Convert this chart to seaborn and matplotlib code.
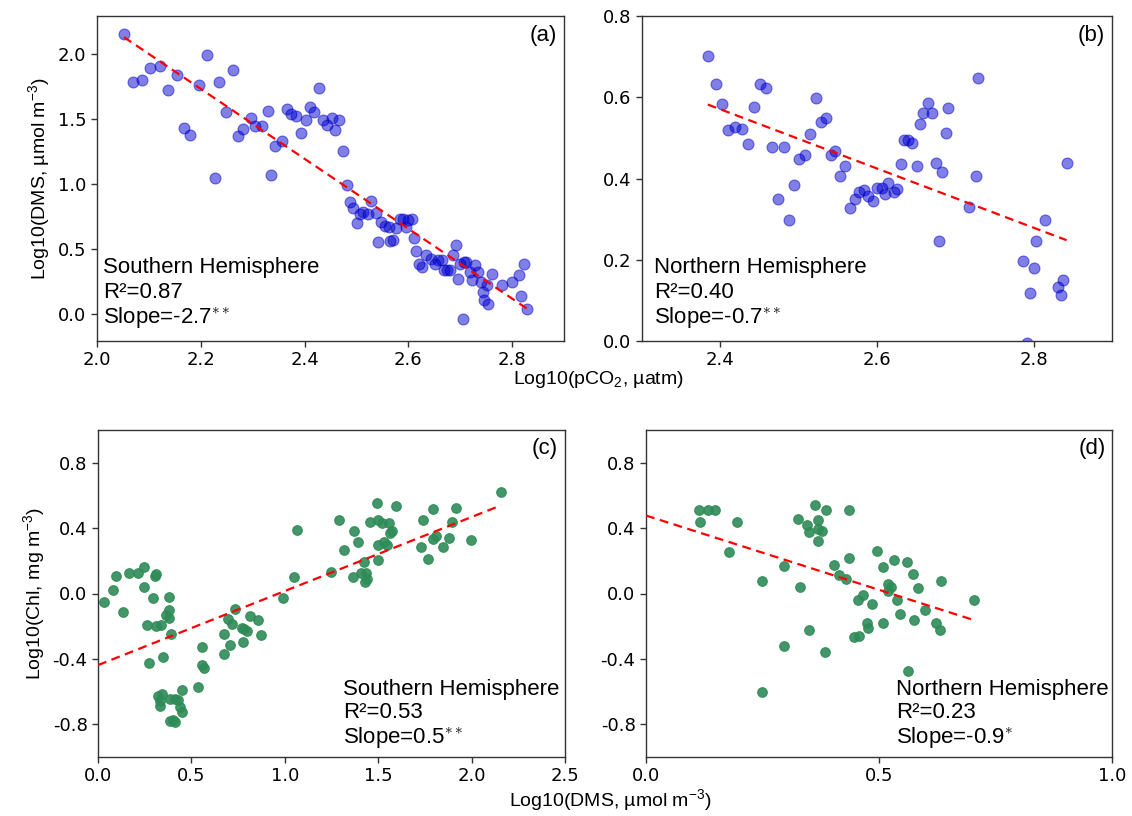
import numpy as np
import pandas as pd
import matplotlib
matplotlib.use("Agg")
import matplotlib.pyplot as plt
import seaborn as sns

# ---------------- data ----------------
a_x = [2.052, 2.069, 2.087, 2.103, 2.121, 2.137, 2.154, 2.167, 2.180, 2.212, 2.196, 2.227,
       2.236, 2.248, 2.263, 2.272, 2.282, 2.296, 2.305, 2.318, 2.330, 2.335, 2.344, 2.356,
       2.366, 2.374, 2.384, 2.394, 2.403, 2.410, 2.419, 2.428, 2.436, 2.444, 2.453, 2.458,
       2.467, 2.474, 2.482, 2.488, 2.494, 2.502, 2.507, 2.513, 2.522, 2.528, 2.537, 2.541,
       2.548, 2.555, 2.562, 2.565, 2.570, 2.576, 2.583, 2.589, 2.596, 2.599, 2.607, 2.611,
       2.615, 2.621, 2.627, 2.635, 2.643, 2.651, 2.658, 2.664, 2.669, 2.675, 2.681, 2.687,
       2.692, 2.696, 2.699, 2.705, 2.707, 2.712, 2.719, 2.722, 2.728, 2.735, 2.741, 2.744,
       2.746, 2.752, 2.754, 2.761, 2.781, 2.799, 2.813, 2.818, 2.822, 2.828]
a_y = [2.152, 1.787, 1.802, 1.889, 1.909, 1.725, 1.838, 1.432, 1.375, 1.991, 1.761, 1.048,
       1.787, 1.551, 1.879, 1.367, 1.426, 1.505, 1.442, 1.449, 1.559, 1.066, 1.291, 1.329,
       1.577, 1.534, 1.521, 1.393, 1.493, 1.590, 1.551, 1.735, 1.493, 1.455, 1.505, 1.411,
       1.495, 1.250, 0.994, 0.861, 0.815, 0.703, 0.772, 0.785, 0.772, 0.872, 0.780, 0.555,
       0.708, 0.677, 0.670, 0.560, 0.568, 0.662, 0.729, 0.729, 0.670, 0.721, 0.729, 0.585,
       0.485, 0.383, 0.363, 0.452, 0.427, 0.389, 0.414, 0.414, 0.343, 0.337, 0.337, 0.452,
       0.534, 0.274, 0.389, -0.038, 0.401, 0.401, 0.324, 0.261, 0.381, 0.324, 0.248, 0.171,
       0.107, 0.222, 0.082, 0.307, 0.222, 0.248, 0.299, 0.138, 0.383, 0.038]

b_x = [2.384, 2.394, 2.402, 2.410, 2.419, 2.428, 2.435, 2.443, 2.451, 2.458, 2.466, 2.473,
       2.481, 2.488, 2.494, 2.501, 2.508, 2.515, 2.522, 2.528, 2.535, 2.541, 2.547, 2.553,
       2.559, 2.565, 2.572, 2.577, 2.583, 2.589, 2.595, 2.600, 2.607, 2.610, 2.614, 2.622,
       2.626, 2.630, 2.634, 2.640, 2.645, 2.651, 2.655, 2.659, 2.665, 2.670, 2.675, 2.679,
       2.683, 2.688, 2.691, 2.718, 2.727, 2.729, 2.786, 2.791, 2.795, 2.801, 2.803, 2.814,
       2.831, 2.835, 2.838, 2.842]
b_y = [0.702, 0.633, 0.583, 0.520, 0.528, 0.522, 0.486, 0.576, 0.632, 0.622, 0.477, 0.349,
       0.477, 0.297, 0.385, 0.447, 0.458, 0.509, 0.598, 0.539, 0.548, 0.457, 0.467, 0.405,
       0.430, 0.327, 0.349, 0.368, 0.372, 0.357, 0.345, 0.376, 0.376, 0.362, 0.388, 0.368,
       0.373, 0.436, 0.496, 0.494, 0.487, 0.430, 0.535, 0.562, 0.586, 0.562, 0.438, 0.246,
       0.415, 0.511, 0.574, 0.330, 0.407, 0.648, 0.197, -0.005, 0.117, 0.179, 0.246, 0.298,
       0.132, 0.114, 0.149, 0.438]

c_x = [0.034, 0.078, 0.098, 0.134, 0.166, 0.212, 0.246, 0.246, 0.262, 0.271, 0.292, 0.303,
       0.310, 0.312, 0.321, 0.335, 0.333, 0.333, 0.342, 0.349, 0.364, 0.378, 0.381, 0.381,
       0.387, 0.383, 0.392, 0.404, 0.413, 0.413, 0.426, 0.440, 0.449, 0.449, 0.538, 0.556,
       0.559, 0.570, 0.672, 0.672, 0.698, 0.707, 0.720, 0.731, 0.770, 0.775, 0.782, 0.797,
       0.814, 0.859, 0.872, 0.993, 1.048, 1.066, 1.246, 1.292, 1.319, 1.367, 1.372, 1.394,
       1.408, 1.426, 1.433, 1.429, 1.442, 1.456, 1.492, 1.497, 1.497, 1.497, 1.519, 1.531,
       1.549, 1.558, 1.563, 1.575, 1.594, 1.727, 1.741, 1.768, 1.791, 1.791, 1.809, 1.845,
       1.880, 1.893, 1.916, 1.995, 2.157]
c_y = [-0.049, 0.023, 0.109, -0.112, 0.125, 0.125, 0.164, 0.037, -0.194, -0.424, -0.028, 0.105,
       0.119, -0.198, -0.628, -0.194, -0.659, -0.690, -0.614, -0.391, -0.131, -0.022, -0.102, -0.147,
       -0.645, -0.778, -0.250, -0.772, -0.788, -0.645, -0.649, -0.696, -0.727, -0.592, -0.573, -0.326,
       -0.436, -0.458, -0.250, -0.369, -0.158, -0.315, -0.188, -0.096, -0.213, -0.295, -0.215, -0.229,
       -0.135, -0.162, -0.252, -0.025, 0.103, 0.391, 0.133, 0.451, 0.269, 0.098, 0.381, 0.318,
       0.123, 0.191, 0.123, 0.068, 0.088, 0.436, 0.555, 0.451, 0.299, 0.207, 0.430, 0.313,
       0.299, 0.433, 0.371, 0.385, 0.535, 0.283, 0.447, 0.211, 0.519, 0.334, 0.350, 0.283,
       0.338, 0.436, 0.525, 0.330, 0.619]

d_x = [0.113, 0.116, 0.132, 0.149, 0.178, 0.196, 0.249, 0.249, 0.297, 0.297, 0.327, 0.330,
       0.345, 0.349, 0.350, 0.362, 0.370, 0.370, 0.369, 0.377, 0.385, 0.387, 0.404, 0.415,
       0.430, 0.435, 0.436, 0.447, 0.457, 0.455, 0.466, 0.475, 0.476, 0.484, 0.495, 0.508,
       0.509, 0.520, 0.520, 0.525, 0.533, 0.538, 0.546, 0.561, 0.562, 0.573, 0.576, 0.584,
       0.598, 0.622, 0.631, 0.634, 0.703]
d_y = [0.512, 0.436, 0.512, 0.512, 0.256, 0.436, -0.602, 0.074, 0.168, -0.321, 0.457, 0.039,
       0.416, 0.375, -0.223, 0.543, 0.451, 0.322, 0.396, 0.383, -0.356, 0.508, 0.174, 0.113,
       0.088, 0.215, 0.512, -0.266, -0.260, -0.037, -0.010, -0.178, -0.209, -0.065, 0.262, -0.178,
       0.164, 0.058, 0.017, 0.037, 0.207, -0.037, -0.127, 0.195, -0.471, 0.119, -0.164, 0.033,
       -0.100, -0.178, -0.223, 0.078, -0.041]

# fitted lines (slope, intercept)
fit_slope = [-2.683, -0.729, 0.453, -0.909]
fit_intercept = [7.633, 2.320, -0.438, 0.477]
fit_from_zero = [False, False, True, True]

panel_tags = ["(a)", "(b)", "(c)", "(d)"]
hemis = ["Southern Hemisphere", "Northern Hemisphere", "Southern Hemisphere", "Northern Hemisphere"]
r2_text = ["0.87", "0.40", "0.53", "0.23"]
slope_text = ["-2.7", "-0.7", "0.5", "-0.9"]
signif = ["**", "**", "**", "*"]

# ---------------- style ----------------
sns.set_theme(style="ticks")
plt.rcParams["font.family"] = ["DejaVu Sans"]
plt.rcParams["mathtext.fontset"] = "custom"
plt.rcParams["mathtext.rm"] = "Liberation Sans"
plt.rcParams["mathtext.it"] = "Liberation Sans:italic"
plt.rcParams["mathtext.bf"] = "Liberation Sans:bold"
plt.rcParams["axes.edgecolor"] = "#333333"
plt.rcParams["axes.linewidth"] = 1.0
plt.rcParams["xtick.color"] = "#333333"
plt.rcParams["ytick.color"] = "#333333"
plt.rcParams["xtick.labelcolor"] = "black"
plt.rcParams["ytick.labelcolor"] = "black"
plt.rcParams["text.color"] = "black"
plt.rcParams["axes.labelcolor"] = "black"

W, H = 1132, 816
fig = plt.figure(figsize=(W / 100, H / 100), dpi=100)

# axes boxes in pixels: left, top, right, bottom
boxes = [(97, 16, 564, 341), (642, 16, 1112, 341),
         (98, 430, 565, 757), (646, 430, 1112, 757)]
axes = []
for (l, t, r, b) in boxes:
    axes.append(fig.add_axes([l / W, 1 - b / H, (r - l) / W, (b - t) / H]))

datasets = [(a_x, a_y), (b_x, b_y), (c_x, c_y), (d_x, d_y)]
colors = ["mediumblue", "mediumblue", "seagreen", "seagreen"]
alphas = [0.5, 0.5, 0.9, 0.9]
sizes = [62, 62, 48, 48]

for i, ax in enumerate(axes):
    x, y = datasets[i]
    df = pd.DataFrame({"x": x, "y": y})
    sns.scatterplot(data=df, x="x", y="y", ax=ax, color=colors[i], alpha=alphas[i],
                    s=sizes[i], edgecolor=colors[i], linewidth=0.8, zorder=2)
    x0 = 0.0 if fit_from_zero[i] else min(x)
    x1 = max(x)
    lx = np.array([x0, x1])
    ly = fit_slope[i] * lx + fit_intercept[i]
    sns.lineplot(x=lx, y=ly, ax=ax, color="red", linestyle=(0, (4, 2.5)), linewidth=1.6,
                 zorder=3)
    ax.set_xlabel("")
    ax.set_ylabel("")
    for sp in ax.spines.values():
        sp.set_visible(True)
    ax.tick_params(labelsize=13, length=4, width=1)

# limits and ticks
axes[0].set_xlim(2.0, 2.9); axes[0].set_ylim(-0.205, 2.29)
axes[0].set_xticks([2.0, 2.2, 2.4, 2.6, 2.8]); axes[0].set_yticks([0.0, 0.5, 1.0, 1.5, 2.0])
axes[1].set_xlim(2.3, 2.9); axes[1].set_ylim(0.0, 0.8)
axes[1].set_xticks([2.4, 2.6, 2.8]); axes[1].set_yticks([0.0, 0.2, 0.4, 0.6, 0.8])
axes[2].set_xlim(0.0, 2.5); axes[2].set_ylim(-1.0, 1.0)
axes[2].set_xticks([0.0, 0.5, 1.0, 1.5, 2.0, 2.5]); axes[2].set_yticks([-0.8, -0.4, 0.0, 0.4, 0.8])
axes[3].set_xlim(0.0, 1.0); axes[3].set_ylim(-1.0, 1.0)
axes[3].set_xticks([0.0, 0.5, 1.0]); axes[3].set_yticks([-0.8, -0.4, 0.0, 0.4, 0.8])
for ax in axes:
    ax.xaxis.set_major_formatter(matplotlib.ticker.FormatStrFormatter("%.1f"))
    ax.yaxis.set_major_formatter(matplotlib.ticker.FormatStrFormatter("%.1f"))

lab_font = dict(family="Liberation Sans", size=14, color="black")
axes[0].set_ylabel("Log10(DMS, \u00b5mol m$^{-3}$)", **lab_font)
axes[2].set_ylabel("Log10(Chl, mg m$^{-3}$)", **lab_font)
fig.text(598 / W, 1 - 380 / H, "Log10(pCO$_2$, \u00b5atm)", ha="center", va="center", **lab_font)
fig.text(610 / W, 1 - 800 / H, "Log10(DMS, \u00b5mol m$^{-3}$)", ha="center", va="center", **lab_font)

# annotations (pixel anchors)
ann_left = [103, 654, 343, 896]
ann_rows = [(268, 292, 318), (268, 292, 318), (689, 713, 738), (689, 713, 738)]
tag_pos = [(557, 35), (1105, 35), (558, 448), (1106, 448)]
txt_font = dict(family="Liberation Sans", size=16, color="black")
for i in range(4):
    r0, r1, r2 = ann_rows[i]
    fig.text(ann_left[i] / W, 1 - r0 / H, hemis[i], ha="left", va="center", **txt_font)
    fig.text(ann_left[i] / W, 1 - r1 / H, "R\u00b2=" + r2_text[i], ha="left", va="center", **txt_font)
    fig.text(ann_left[i] / W, 1 - r2 / H, "Slope=" + slope_text[i] + "$^{" + "\\ast" * len(signif[i]) + "}$",
             ha="left", va="center", **txt_font)
    tx, ty = tag_pos[i]
    fig.text(tx / W, 1 - ty / H, panel_tags[i], ha="right", va="center", **txt_font)

fig.savefig("out.png", dpi=100)
